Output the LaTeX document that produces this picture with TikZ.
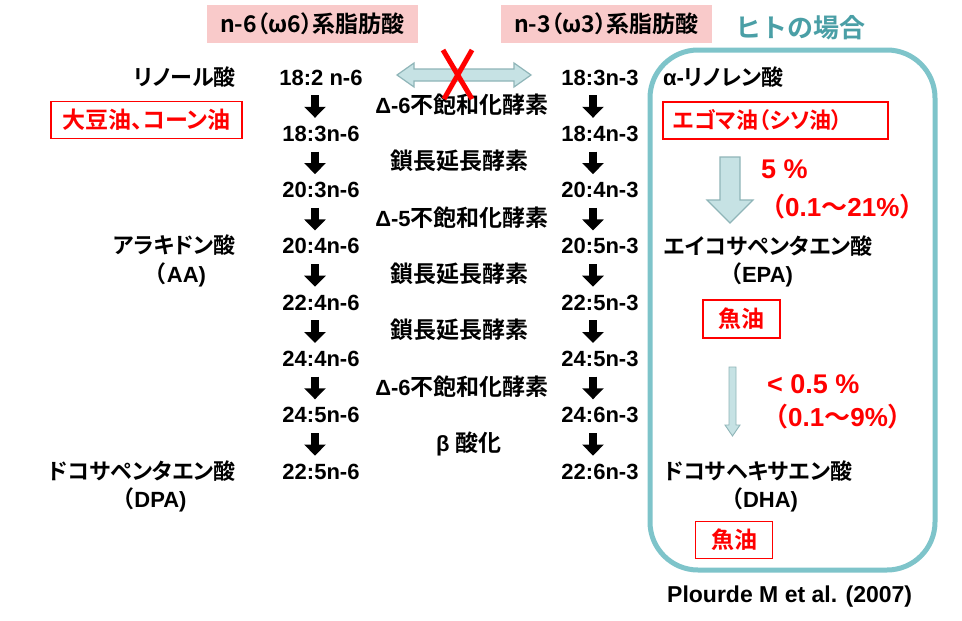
\documentclass[tikz,border=0pt]{standalone}
\usepackage{fontspec}
\usetikzlibrary{arrows.meta}
\setmainfont{Liberation Sans}
\newfontfamily\cjkp{Noto Sans CJK JP}[RawFeature=+palt,BoldFont={Noto Sans CJK JP Bold}]
\newfontfamily\cjkw{Noto Sans CJK JP}[BoldFont={Noto Sans CJK JP Bold}]
\newcommand\J[1]{{\cjkp\bfseries\fontsize{22}{26}\selectfont #1}}
\newcommand\JK[1]{{\cjkp\bfseries\fontsize{23}{27}\selectfont #1}}
\newcommand\JW[1]{{\cjkw\bfseries\fontsize{23}{27}\selectfont #1}}
\newcommand\JR[1]{{\cjkw\bfseries\fontsize{26}{30}\selectfont #1}}
\definecolor{hdrpink}{HTML}{F9CACA}
\definecolor{tealtxt}{HTML}{4A9FA6}
\definecolor{boxteal}{HTML}{7EC4CA}
\definecolor{arrfill}{HTML}{C6E2E4}
\definecolor{arredge}{HTML}{8FB5B8}
\definecolor{myred}{HTML}{FF0000}
\begin{document}
\begin{tikzpicture}[x=1pt,y=-1pt,
  every node/.style={font=\bfseries\fontsize{22}{26}\selectfont, inner sep=0pt},
  num/.style={anchor=base, text height=16pt, text depth=0pt},
  hdr/.style={fill=hdrpink, minimum width=211pt, minimum height=38pt},
  redbox/.style={draw=myred, line width=1.2pt, fill=white, text=myred, minimum height=37pt},
  blk/.style={line width=8pt, -{Triangle[width=21pt,length=11pt]}, shorten <=10pt, shorten >=7.3pt},
  redtxt/.style={text=myred, anchor=base west},
  lightarr/.style={fill=arrfill, draw=arredge, line width=1.2pt, line join=miter}
]
\useasboundingbox (0,0) rectangle (962,621);
\fill[white] (0,0) rectangle (962,621);

% headers
\node[hdr] (h6) at (312.5,24) {\JK{n-6（ω6）系脂肪酸}};
\node[hdr] (h3) at (606.5,24) {\JK{n-3（ω3）系脂肪酸}};
\node[text=tealtxt] (hito) at (800,28) {{\cjkw\bfseries\fontsize{26}{30}\selectfont ヒトの場合}};

% human box
\draw[boxteal, line width=5pt, rounded corners=48pt] (650,50) rectangle (935,570);

% numbers
\foreach \n/\t [count=\i from 0] in {l1/18:2 n-6,l2/18:3n-6,l3/20:3n-6,l4/20:4n-6,l5/22:4n-6,l6/24:4n-6,l7/24:5n-6,l8/22:5n-6}
  \node[num] (\n) at (321,85+56.3*\i) {\t};
\foreach \n/\t [count=\i from 0] in {r1/18:3n-3,r2/18:4n-3,r3/20:4n-3,r4/20:5n-3,r5/22:5n-3,r6/24:5n-3,r7/24:6n-3,r8/22:6n-3}
  \node[num] (\n) at (600,85+56.3*\i) {\t};

% black arrows
\foreach \a/\b in {l1/l2,l2/l3,l3/l4,l4/l5,l5/l6,l6/l7,l7/l8}
  \draw[blk] ([xshift=-6pt]\a.south) -- ([xshift=-6pt]\b.north);
\foreach \a/\b in {r1/r2,r2/r3,r3/r4,r4/r5,r5/r6,r6/r7,r7/r8}
  \draw[blk] ([xshift=-7pt]\a.south) -- ([xshift=-7pt]\b.north);

% enzymes
\node[anchor=base] (e1) at (462,113.5) {Δ-6\JK{不飽和化酵素}};
\node[anchor=base] (e2) at (459,169.8) {\JK{鎖長延長酵素}};
\node[anchor=base] (e3) at (462,226.1) {Δ-5\JK{不飽和化酵素}};
\node[anchor=base] (e4) at (459,282.4) {\JK{鎖長延長酵素}};
\node[anchor=base] (e5) at (459,338.7) {\JK{鎖長延長酵素}};
\node[anchor=base] (e6) at (462,395) {Δ-6\JK{不飽和化酵素}};
\node[anchor=base] (e7) at (469,451.3) {β \JK{酸化}};

% double arrow with cross
\draw[lightarr] (397,75) -- (414,63) -- (414,69) -- (514,69) -- (514,63) -- (531,75)
  -- (514,87) -- (514,81) -- (414,81) -- (414,87) -- cycle;
\draw[myred, line width=5pt] (443,50) -- (472,99);
\draw[myred, line width=5pt] (472,50) -- (444,99);

% left labels
\node[anchor=base east] (linol) at (236,85) {\J{リノール酸}};
\node[redbox, minimum width=191pt] (soy) at (146.5,120) {\JK{大豆油、コーン油}};
\node[anchor=base east] (ara) at (236,253.9) {\J{アラキドン酸}};
\node[anchor=base] (aa) at (175,282) {\JW{（}AA)};
\node[anchor=base east] (dpan) at (236,479.1) {\J{ドコサペンタエン酸}};
\node[anchor=base] (dpa) at (149,507) {\JW{（}DPA)};

% right labels
\node[anchor=base west] (ala) at (663,85) {α-\J{リノレン酸}};
\node[redbox, minimum width=225pt] (egoma) at (775.5,120.5) {\makebox[205pt][l]{\J{エゴマ油（シソ油）}}};
\draw[lightarr] (720,157) -- (740,157) -- (740,200) -- (753,200) -- (730,223) -- (707,200) -- (720,200) -- cycle;
\node[redtxt, font=\bfseries\fontsize{27}{30}\selectfont] (p1) at (761,178) {5 \%};
\node[redtxt, font=\bfseries\fontsize{26}{30}\selectfont] (q1) at (759,216) {\JR{（}0.1\JR{～}21\%\JR{）}};
\node[anchor=base west] (epan) at (664,254) {\J{エイコサペンタエン酸}};
\node[anchor=base] (epa) at (756,282) {\JW{（}EPA)};
\node[redbox, minimum width=77pt, minimum height=38pt] (fish1) at (741.5,319) {\JK{魚油}};
\draw[lightarr, line width=0.9pt] (729,367) -- (736,367) -- (736,425) -- (740,425) -- (732.5,436) -- (725,425) -- (729,425) -- cycle;
\node[redtxt, font=\bfseries\fontsize{27}{30}\selectfont] (p2) at (767,393) {< 0.5 \%};
\node[redtxt, font=\bfseries\fontsize{26}{30}\selectfont] (q2) at (762,426) {\JR{（}0.1\JR{～}9\%\JR{）}};
\node[anchor=base west] (dhan) at (664,479) {\J{ドコサヘキサエン酸}};
\node[anchor=base] (dha) at (759,507) {\JW{（}DHA)};
\node[redbox, minimum width=77pt] (fish2) at (734,540) {\JK{魚油}};

\node[anchor=base west, font=\bfseries\fontsize{23}{27}\selectfont] (ref) at (667,602) {Plourde M et al. (2007)};
\end{tikzpicture}
\end{document}
